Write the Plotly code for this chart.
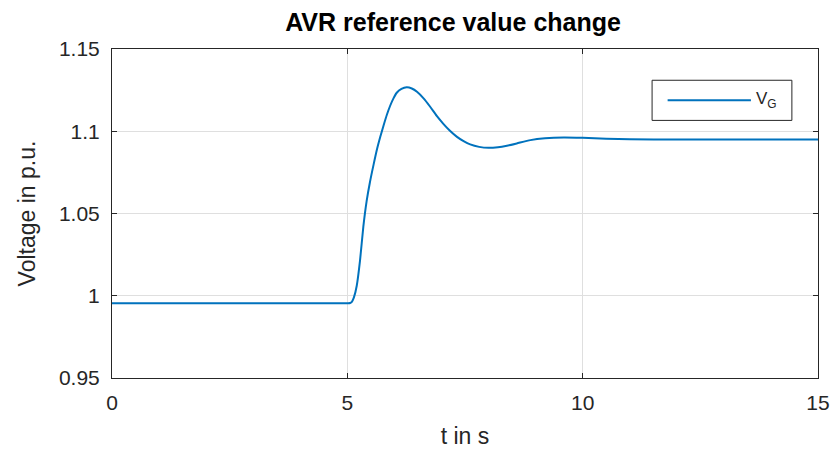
import plotly.graph_objects as go

# Generator terminal voltage after an AVR setpoint step at t = 5 s
t_s = [0.0, 1.0, 2.0, 3.0, 4.0, 5.0, 5.06, 5.10, 5.14, 5.20, 5.27, 5.34, 5.41, 5.48,
       5.56, 5.63, 5.70, 5.77, 5.84, 5.91, 5.98, 6.05, 6.15, 6.26, 6.37, 6.48, 6.62,
       6.76, 6.90, 7.04, 7.18, 7.33, 7.47, 7.61, 7.80, 8.0, 8.20, 8.39, 8.60, 8.89,
       9.2, 9.6, 10.0, 10.5, 11.0, 12.0, 13.0, 14.0, 15.0]
v_g = [0.9955, 0.9955, 0.9955, 0.9955, 0.9955, 0.9955, 0.9956, 0.9965, 0.9990, 1.0061,
       1.0215, 1.0420, 1.0575, 1.0690, 1.0800, 1.0890, 1.0966, 1.1035, 1.1100, 1.1155,
       1.1200, 1.1234, 1.1257, 1.1267, 1.1260, 1.1240, 1.1200, 1.1149, 1.1093, 1.1045,
       1.1003, 1.0966, 1.0940, 1.0920, 1.0905, 1.0899, 1.0903, 1.0912, 1.0926, 1.0946,
       1.0957, 1.0962, 1.0960, 1.0955, 1.0951, 1.0950, 1.0950, 1.0950, 1.0950]

x_ticks = [0, 5, 10, 15]
y_ticks = [0.95, 1.0, 1.05, 1.1, 1.15]
y_tick_text = ["0.95", "1", "1.05", "1.1", "1.15"]

line_blue = "#0072BD"
ink = "#262626"
font_family = "Liberation Sans, Arial, sans-serif"

fig = go.Figure()
fig.add_trace(go.Scatter(x=t_s, y=v_g, mode="lines", line=dict(color=line_blue, width=2),
                         line_shape="spline", line_smoothing=0.6,
                         name="V<sub>G</sub>", showlegend=False))

axis_common = dict(showline=True, linecolor=ink, linewidth=1, mirror="ticks",
                   ticks="inside", ticklen=5, tickcolor=ink, showgrid=True,
                   gridcolor="#dfdfdf", gridwidth=1, zeroline=False, automargin=False,
                   tickfont=dict(family=font_family, size=21, color=ink))

fig.update_xaxes(range=[0, 15], tickvals=x_ticks, ticklabelstandoff=6,
                 title=dict(text="t in s", font=dict(family=font_family, size=23, color=ink),
                            standoff=14),
                 **axis_common)
fig.update_yaxes(range=[0.95, 1.15], tickvals=y_ticks, ticktext=y_tick_text,
                 ticklabelstandoff=7,
                 title=dict(text="Voltage in p.u.", font=dict(family=font_family, size=23, color=ink),
                            standoff=16),
                 **axis_common)

# Legend box drawn in paper coordinates
fig.add_shape(type="rect", xref="paper", yref="paper", x0=0.765, x1=0.963, y0=0.783, y1=0.905,
              line=dict(color=ink, width=1), fillcolor="white", layer="above")
fig.add_shape(type="line", xref="paper", yref="paper", x0=0.787, x1=0.905, y0=0.844, y1=0.844,
              line=dict(color=line_blue, width=2), layer="above")
fig.add_annotation(xref="paper", yref="paper", x=0.91, y=0.846, xanchor="left", yanchor="middle",
                   text="V<sub>G</sub>", showarrow=False,
                   font=dict(family=font_family, size=17, color=ink))

fig.update_layout(
    width=835, height=455,
    margin=dict(l=112, r=17, t=49, b=77),
    paper_bgcolor="white", plot_bgcolor="white",
    title=dict(text="<b>AVR reference value change</b>", x=0.5426, xanchor="center",
               y=0.952, yanchor="middle", font=dict(family=font_family, size=25, color="black")),
)

fig.write_html("out.html")
